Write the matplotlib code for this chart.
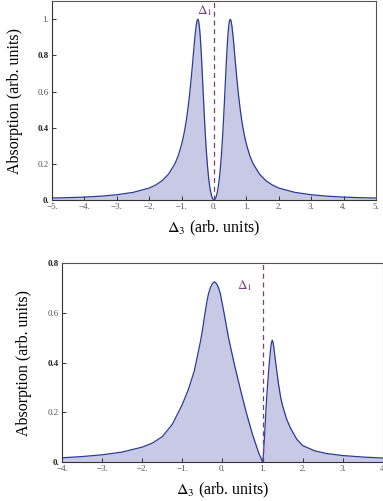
import numpy as np
import matplotlib
matplotlib.use("Agg")
import matplotlib.pyplot as plt

plt.rcParams['font.family'] = ['Liberation Serif', 'DejaVu Serif']
plt.rcParams['mathtext.fontset'] = 'stix'

# top panel: symmetric EIT-like absorption, Delta_1 = 0
top_x = [-5.0, -4.5, -4.0, -3.5, -3.0, -2.5, -2.0, -1.8, -1.6, -1.4, -1.2, -1.1, -1.0,
         -0.95, -0.9, -0.85, -0.8, -0.75, -0.7, -0.65, -0.625, -0.6, -0.575, -0.55, -0.525,
         -0.5, -0.475, -0.45, -0.425, -0.4, -0.375, -0.35, -0.325, -0.3, -0.275, -0.25,
         -0.225, -0.2, -0.175, -0.15, -0.125, -0.1, -0.075, -0.05, -0.025, 0.0,
         0.025, 0.05, 0.075, 0.1, 0.125, 0.15, 0.175, 0.2, 0.225, 0.25, 0.275, 0.3,
         0.325, 0.35, 0.375, 0.4, 0.425, 0.45, 0.475, 0.5, 0.525, 0.55, 0.575, 0.6,
         0.625, 0.65, 0.7, 0.75, 0.8, 0.85, 0.9, 0.95, 1.0, 1.1, 1.2, 1.4, 1.6, 1.8,
         2.0, 2.5, 3.0, 3.5, 4.0, 4.5, 5.0]
top_y = [0.011, 0.013, 0.016, 0.021, 0.029, 0.042, 0.066, 0.083, 0.107, 0.144, 0.203, 0.247, 0.308,
         0.346, 0.392, 0.447, 0.513, 0.590, 0.680, 0.780, 0.832, 0.882, 0.927, 0.965, 0.991,
         1.0, 0.990, 0.957, 0.904, 0.832, 0.746, 0.653, 0.559, 0.468, 0.383, 0.308,
         0.242, 0.185, 0.137, 0.098, 0.066, 0.042, 0.023, 0.010, 0.003, 0.0,
         0.003, 0.010, 0.023, 0.042, 0.066, 0.098, 0.137, 0.185, 0.242, 0.308, 0.383, 0.468,
         0.559, 0.653, 0.746, 0.832, 0.904, 0.957, 0.990, 1.0, 0.991, 0.965, 0.927, 0.882,
         0.832, 0.780, 0.680, 0.590, 0.513, 0.447, 0.392, 0.346, 0.308, 0.247, 0.203, 0.144, 0.107, 0.083,
         0.066, 0.042, 0.029, 0.021, 0.016, 0.013, 0.011]
top_delta1 = 0.0
top_xticks = [-5, -4, -3, -2, -1, 0, 1, 2, 3, 4, 5]
top_xlabels = ['\u22125.', '\u22124.', '\u22123.', '\u22122.', '\u22121.', '0.', '1.', '2.', '3.', '4.', '5.']
top_yticks = [0, 0.2, 0.4, 0.6, 0.8, 1.0]
top_ylabels = ['0.', '0.2', '0.4', '0.6', '0.8', '1.']

# bottom panel: asymmetric spectrum, Delta_1 = 1
bot_x = [-4.0, -3.5, -3.0, -2.5, -2.0, -1.75, -1.5, -1.25, -1.0, -0.85, -0.7, -0.6, -0.55,
         -0.5, -0.45, -0.4, -0.35, -0.3, -0.25, -0.2, -0.15, -0.1, -0.05, 0.0, 0.05, 0.1, 0.15,
         0.3, 0.45, 0.6, 0.75, 0.9, 1.0,
         1.02, 1.05, 1.08, 1.11, 1.14, 1.17, 1.2, 1.22, 1.24, 1.26, 1.28, 1.31, 1.35, 1.4,
         1.45, 1.5, 1.6, 1.7, 1.85, 2.0, 2.3, 2.6, 3.0, 3.5, 4.0]
bot_y = [0.017, 0.022, 0.029, 0.040, 0.060, 0.076, 0.102, 0.152, 0.232, 0.292, 0.368, 0.445, 0.484,
         0.530, 0.583, 0.635, 0.676, 0.702, 0.718, 0.725, 0.718, 0.702, 0.675, 0.632, 0.590, 0.545, 0.500,
         0.390, 0.290, 0.195, 0.110, 0.038, 0.0,
         0.030, 0.110, 0.200, 0.280, 0.345, 0.405, 0.455, 0.480, 0.490, 0.482, 0.460, 0.420, 0.370, 0.310,
         0.260, 0.225, 0.172, 0.135, 0.092, 0.066, 0.045, 0.034, 0.026, 0.020, 0.016]
bot_delta1 = 1.0
bot_xticks = [-4, -3, -2, -1, 0, 1, 2, 3, 4]
bot_xlabels = ['\u22124.', '\u22123.', '\u22122.', '\u22121.', '0.', '1.', '2.', '3.', '4.']
bot_yticks = [0, 0.2, 0.4, 0.6, 0.8]
bot_ylabels = ['0.', '0.2', '0.4', '0.6', '0.8']

line_col = '#2a3b94'
fill_col = '#c8cae5'
dash_col = '#7a3d7e'
frame_col = '#555555'

fig = plt.figure(figsize=(3.83, 5.01), dpi=100)
ax1 = fig.add_axes([0.1358, 0.6008, 0.846, 0.397])
ax2 = fig.add_axes([0.1619, 0.0778, 0.838, 0.397])


def style(ax, x, y, d1, xt, xl, yt, yl, xlim, ylim, lab_xy, lab_ha, ylab_x):
    ax.fill_between(x, y, 0, color=fill_col, lw=0)
    ax.plot(x, y, color=line_col, lw=0.9)
    ax.axvline(d1, color=dash_col, lw=0.9, ls=(0, (4, 3)))
    ax.text(lab_xy[0], lab_xy[1], r'$\Delta_1$', color=dash_col, fontsize=9.5,
            ha=lab_ha, va='center')
    ax.set_xlim(*xlim)
    ax.set_ylim(*ylim)
    ax.set_xticks(xt)
    ax.set_xticklabels(xl)
    ax.set_yticks(yt)
    ax.set_yticklabels(yl)
    for lab in ax.get_yticklabels():
        if lab.get_text() in ('0.', '0.4', '0.8'):
            lab.set_fontweight('bold')
            lab.set_color('#222222')
        else:
            lab.set_color('#555555')
    for lab in ax.get_xticklabels():
        lab.set_color('#555555')
    ax.tick_params(direction='in', length=3, width=0.7, labelsize=6.5, pad=2,
                   color='#333333')
    for s in ax.spines.values():
        s.set_color(frame_col)
        s.set_linewidth(0.8)
    ax.spines['left'].set_color('#333333')
    ax.spines['bottom'].set_color('#333333')
    ax.set_xlabel(r'$\Delta_3$ (arb. units)', fontsize=11.5)
    ax.set_ylabel('Absorption (arb. units)', fontsize=11.5)
    ax.xaxis.set_label_coords(0.5, -0.095)
    ax.yaxis.set_label_coords(ylab_x, 0.5)


style(ax1, top_x, top_y, top_delta1, top_xticks, top_xlabels, top_yticks, top_ylabels,
      (-5, 5), (0, 1.1), (-0.06, 1.05), 'right', -0.09)
style(ax2, bot_x, bot_y, bot_delta1, bot_xticks, bot_xlabels, bot_yticks, bot_ylabels,
      (-4, 4), (0, 0.8), (0.56, 0.71), 'center', -0.095)

fig.savefig('out.png', dpi=100)
